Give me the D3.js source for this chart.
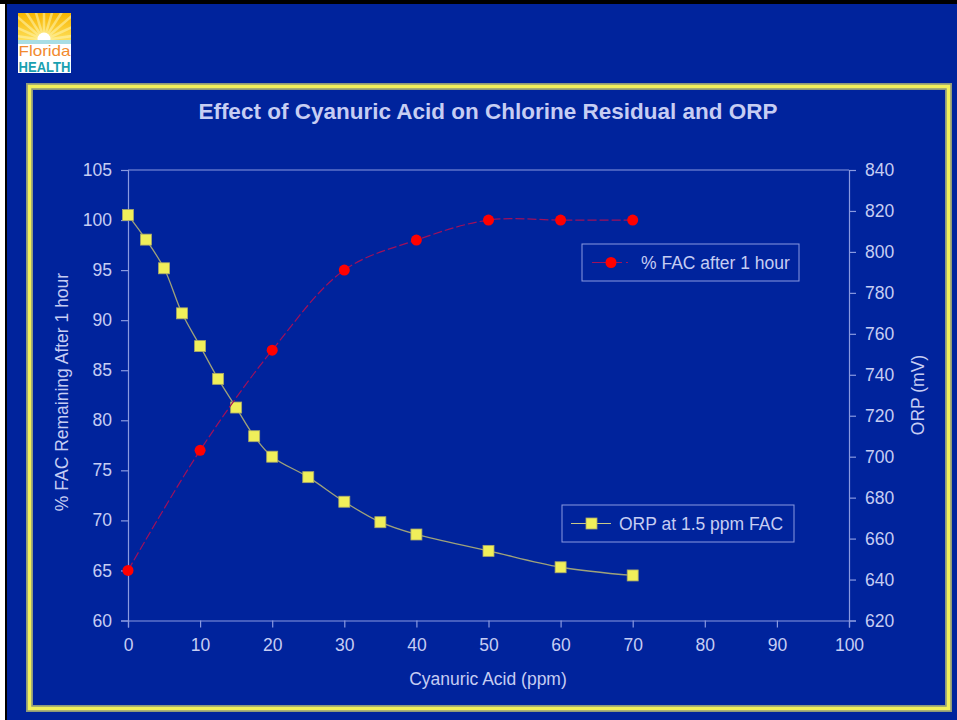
<!DOCTYPE html>
<html>
<head>
<meta charset="utf-8">
<script src="https://cdn.jsdelivr.net/npm/d3@7"></script>
<style>
  html, body { margin: 0; padding: 0; background: #fff; }
  svg { display: block; font-family: "Liberation Sans", Arial, sans-serif; }
</style>
</head>
<body>
<script>
'use strict';
// data
const acidFac = [0, 10, 20, 30, 40, 50, 60, 70];
const facValues = [65, 77, 87, 95, 98, 100, 100, 100];
const acidOrp = [0, 2.5, 5, 7.5, 10, 12.5, 15, 17.5, 20, 25, 30, 35, 40, 50, 60, 70];
const orpValues = [818, 806, 792, 770, 754, 738, 724, 710, 700, 690, 678, 668, 662, 654, 646, 642];
const leftTicks = [60, 65, 70, 75, 80, 85, 90, 95, 100, 105];
const rightTicks = [620, 640, 660, 680, 700, 720, 740, 760, 780, 800, 820, 840];
const xTicks = [0, 10, 20, 30, 40, 50, 60, 70, 80, 90, 100];

const W = 957, H = 720;
const bg = '#00239c';
const txt = '#c6cdf3';
const axisCol = '#8a9ae0';
const fs = 17.5;

const svg = d3.select(document.body).append('svg')
  .attr('width', W).attr('height', H);

drawBackground(svg);
drawLogo(svg);
drawChart(svg);

function drawBackground(s){
  s.append('rect').attr('width', W).attr('height', H).attr('fill', bg);
  s.append('rect').attr('x', 0).attr('y', 0).attr('width', 5).attr('height', H).attr('fill', '#fff');
  s.append('rect').attr('x', 5).attr('y', 0).attr('width', 2).attr('height', H).attr('fill', '#000');
  s.append('rect').attr('x', 0).attr('y', 0).attr('width', W).attr('height', 4).attr('fill', '#000');
  // yellow frame
  s.append('rect').attr('x', 29.5).attr('y', 86.5).attr('width', 919).attr('height', 622)
    .attr('fill', 'none').attr('stroke', '#8f9a7a').attr('stroke-width', 7);
  s.append('rect').attr('x', 29.5).attr('y', 86.5).attr('width', 919).attr('height', 622)
    .attr('fill', 'none').attr('stroke', '#f2f05a').attr('stroke-width', 3.5);
}

function drawLogo(s){
  const defs = s.append('defs');
  defs.append('clipPath').attr('id', 'logoClip')
    .append('rect').attr('width', 53).attr('height', 31);
  const grad = defs.append('linearGradient').attr('id', 'sky')
    .attr('x1', 0).attr('y1', 0).attr('x2', 0).attr('y2', 1);
  grad.append('stop').attr('offset', '0%').attr('stop-color', '#f7b500');
  grad.append('stop').attr('offset', '100%').attr('stop-color', '#ffe566');

  const g = s.append('g').attr('transform', 'translate(18,13)');
  g.append('rect').attr('width', 53).attr('height', 60).attr('fill', '#fff');
  const sun = g.append('g').attr('clip-path', 'url(#logoClip)');
  sun.append('rect').attr('width', 53).attr('height', 31).attr('fill', 'url(#sky)');
  for (let i = 0; i < 11; i++) {
    const a = Math.PI + (i + 0.5) * Math.PI / 11;
    sun.append('line').attr('x1', 26).attr('y1', 27)
      .attr('x2', 26 + 45 * Math.cos(a)).attr('y2', 27 + 45 * Math.sin(a))
      .attr('stroke', '#fff6b0').attr('stroke-width', 2.5).attr('opacity', 0.55);
  }
  sun.append('circle').attr('cx', 26).attr('cy', 26).attr('r', 6.5).attr('fill', '#fff');
  sun.append('rect').attr('x', 0).attr('y', 27).attr('width', 53).attr('height', 4).attr('fill', '#a8dde4');
  g.append('text').attr('x', 0.5).attr('y', 43)
    .attr('font-size', 15).attr('fill', '#f28a2e')
    .attr('textLength', 52).attr('lengthAdjust', 'spacingAndGlyphs').text('Florida');
  g.append('text').attr('x', 0.5).attr('y', 58.5)
    .attr('font-size', 14).attr('font-weight', 'bold').attr('fill', '#1aa0b0')
    .attr('textLength', 52).attr('lengthAdjust', 'spacingAndGlyphs').text('HEALTH');
}

function drawChart(s){
  const x = d3.scaleLinear().domain([0, 100]).range([128, 849]);
  const yL = d3.scaleLinear().domain([60, 105]).range([620.5, 170]);
  const yR = d3.scaleLinear().domain([620, 840]).range([620.5, 170]);

  // title
  s.append('text').attr('x', 488).attr('y', 119).attr('text-anchor', 'middle')
    .attr('font-size', 22.5).attr('font-weight', 'bold').attr('fill', txt)
    .text('Effect of Cyanuric Acid on Chlorine Residual and ORP');

  // top border of plot area
  s.append('line').attr('x1', x(0)).attr('x2', x(100)).attr('y1', yL(105)).attr('y2', yL(105))
    .attr('stroke', axisCol).attr('stroke-width', 1);

  const styleAxis = g => {
    g.selectAll('path, line').attr('stroke', axisCol).attr('stroke-width', 1.2);
    g.selectAll('text').attr('fill', txt).attr('font-size', fs)
      .attr('font-family', '"Liberation Sans", Arial, sans-serif');
  };

  s.append('g').attr('transform', `translate(${x(0)},0)`)
    .call(d3.axisLeft(yL).tickValues(leftTicks).tickSizeOuter(0).tickSize(7).tickPadding(9))
    .call(styleAxis);
  s.append('g').attr('transform', `translate(${x(100)},0)`)
    .call(d3.axisRight(yR).tickValues(rightTicks).tickSizeOuter(0).tickSize(7).tickPadding(9))
    .call(styleAxis);
  s.append('g').attr('transform', `translate(0,${yL(60)})`)
    .call(d3.axisBottom(x).tickValues(xTicks).tickSizeOuter(0).tickSize(7).tickPadding(11))
    .call(styleAxis);

  // axis titles
  s.append('text').attr('transform', 'translate(68,392) rotate(-90)')
    .attr('text-anchor', 'middle').attr('font-size', fs).attr('fill', txt)
    .text('% FAC Remaining After 1 hour');
  s.append('text').attr('transform', 'translate(924,395) rotate(-90)')
    .attr('text-anchor', 'middle').attr('font-size', fs).attr('fill', txt)
    .text('ORP (mV)');
  s.append('text').attr('x', 488).attr('y', 685).attr('text-anchor', 'middle')
    .attr('font-size', fs).attr('fill', txt)
    .text('Cyanuric Acid (ppm)');

  // ORP series
  const orpData = acidOrp.map((a, i) => [a, orpValues[i]]);
  const lineR = d3.line().x(d => x(d[0])).y(d => yR(d[1])).curve(d3.curveCatmullRom.alpha(0.5));
  s.append('path').attr('d', lineR(orpData)).attr('fill', 'none')
    .attr('stroke', '#9ea27a').attr('stroke-width', 1.3);
  s.append('g').selectAll('rect').data(orpData).enter().append('rect')
    .attr('x', d => x(d[0]) - 5.5).attr('y', d => yR(d[1]) - 5.5)
    .attr('width', 11).attr('height', 11)
    .attr('fill', '#f0ef5a').attr('stroke', '#a8a86a').attr('stroke-width', 0.8);

  // FAC series
  const facData = acidFac.map((a, i) => [a, facValues[i]]);
  const lineL = d3.line().x(d => x(d[0])).y(d => yL(d[1])).curve(d3.curveCatmullRom.alpha(0.5));
  s.append('path').attr('d', lineL(facData)).attr('fill', 'none')
    .attr('stroke', '#a0105a').attr('stroke-width', 1.2).attr('stroke-dasharray', '9,3');
  s.append('g').selectAll('circle').data(facData).enter().append('circle')
    .attr('cx', d => x(d[0])).attr('cy', d => yL(d[1])).attr('r', 5.5)
    .attr('fill', '#ff0000');

  // legends
  const leg1 = s.append('g').attr('transform', 'translate(582,244)');
  leg1.append('rect').attr('width', 217).attr('height', 37)
    .attr('fill', 'none').attr('stroke', axisCol).attr('stroke-width', 1);
  leg1.append('line').attr('x1', 10).attr('x2', 50).attr('y1', 18.5).attr('y2', 18.5)
    .attr('stroke', '#a0105a').attr('stroke-width', 1.2).attr('stroke-dasharray', '30,4,2');
  leg1.append('circle').attr('cx', 29).attr('cy', 18.5).attr('r', 5.5).attr('fill', '#ff0000');
  leg1.append('text').attr('x', 59).attr('y', 24.5).attr('font-size', fs).attr('fill', txt)
    .text('% FAC after 1 hour');

  const leg2 = s.append('g').attr('transform', 'translate(562,505)');
  leg2.append('rect').attr('width', 232).attr('height', 37)
    .attr('fill', 'none').attr('stroke', axisCol).attr('stroke-width', 1);
  leg2.append('line').attr('x1', 9).attr('x2', 49).attr('y1', 18.5).attr('y2', 18.5)
    .attr('stroke', '#c8c888').attr('stroke-width', 1.2);
  leg2.append('rect').attr('x', 24).attr('y', 13).attr('width', 11).attr('height', 11)
    .attr('fill', '#f0ef5a').attr('stroke', '#a8a86a').attr('stroke-width', 0.8);
  leg2.append('text').attr('x', 57).attr('y', 24.5).attr('font-size', fs).attr('fill', txt)
    .text('ORP at 1.5 ppm FAC');
}
</script>
</body>
</html>
